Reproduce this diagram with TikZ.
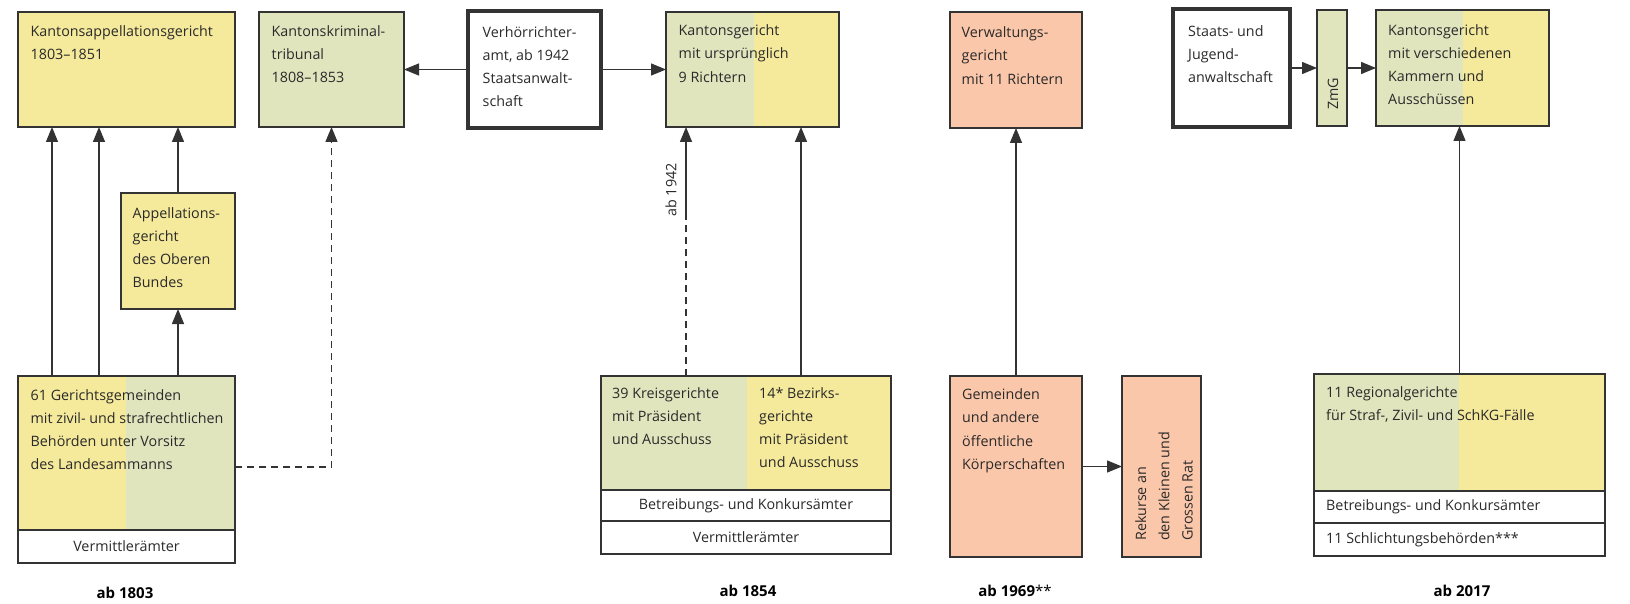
\documentclass[tikz,border=0pt]{standalone}
\usepackage{fontspec}
\setmainfont{Open Sans}
\usetikzlibrary{arrows.meta}
\definecolor{ylw}{HTML}{F5E99B}
\definecolor{grn}{HTML}{E0E5BE}
\definecolor{sal}{HTML}{FBC7AA}
\definecolor{ln}{HTML}{333333}
\definecolor{tx}{HTML}{2A2A2A}
\begin{document}
\begin{tikzpicture}[x=1pt,y=-1pt,
 box/.style={draw=ln, line width=1.3pt, inner sep=0pt, outer sep=0pt, anchor=north west},
 thickbox/.style={box, line width=3.8pt},
 splitfill/.style n args={3}{fill=#1, path picture={\fill[#2] ([xshift=#3]path picture bounding box.south west) rectangle (path picture bounding box.north east);}},
 txt/.style={text=tx, font=\fontsize{14.3}{23.3}\selectfont, align=left, anchor=north west, inner sep=0pt},
 ctxt/.style={text=tx, font=\fontsize{14.3}{23.3}\selectfont, inner sep=0pt},
 arr/.style={draw=ln, line width=1.3pt, -{Triangle[length=15pt,width=12pt]}},
 dsh/.style={draw=ln, line width=1.3pt, dash pattern=on 7pt off 5pt},
 dsharr/.style={dsh, -{Triangle[length=15pt,width=12pt]}},
 yr/.style={text=black, font=\fontsize{15}{18}\selectfont\bfseries, inner sep=0pt}
]
\fill[white] (0,0) rectangle (1630,604);
\useasboundingbox (0,0) rectangle (1630,604);

% ---------- ab 1803 ----------
\node[box, fill=ylw, minimum width=217pt, minimum height=115pt] (kag) at (18,12) {};
\node[txt] (tkag) at (30.5,25) {Kantonsappellationsgericht\\1803–1851};
\node[box, fill=grn, minimum width=145pt, minimum height=115pt] (kkt) at (259,12) {};
\node[txt] (tkkt) at (271.5,25) {Kantonskriminal-\\tribunal\\1808–1853};
\node[box, fill=ylw, minimum width=114pt, minimum height=116pt] (agob) at (121,193) {};
\node[txt] (tagob) at (132.5,207) {Appellations-\\gericht\\des Oberen\\Bundes};
\node[box, splitfill={ylw}{grn}{108pt}, minimum width=217pt, minimum height=154pt] (gg) at (18,376) {};
\node[txt] (tgg) at (30.5,389) {61 Gerichtsgemeinden\\mit zivil- und strafrechtlichen\\Behörden unter Vorsitz\\des Landesammanns};
\node[box, fill=white, minimum width=217pt, minimum height=33pt] (vm1) at (18,530) {};
\node[ctxt] (tvm1) at (vm1.center) {Vermittlerämter};
\node[yr] (y1803) at (125,593) {ab 1803};

\draw[arr] ([xshift=34pt]gg.north west) -- ([xshift=34pt]kag.south west);
\draw[arr] ([xshift=81pt]gg.north west) -- ([xshift=81pt]kag.south west);
\draw[arr] (gg.north -| agob.south) -- (agob.south);
\draw[arr] (agob.north) -- (agob.north |- kag.south);
\draw[dsharr] ([yshift=-14pt]gg.east) -| (kkt.south);

% ---------- Verhoerrichteramt ----------
\node[thickbox, fill=white, minimum width=133pt, minimum height=117pt] (vra) at (468,11) {};
\node[txt] (tvra) at (482.5,26) {Verhörrichter-\\amt, ab 1942\\Staatsanwalt-\\schaft};
\node[box, splitfill={grn}{ylw}{88pt}, minimum width=173pt, minimum height=115pt] (kg1) at (666,12) {};
\node[txt] (tkg1) at (678.5,24.5) {Kantonsgericht\\mit ursprünglich\\9 Richtern};
\draw[arr] (vra.west) -- (kkt.east);
\draw[arr] (vra.east) -- (kg1.west);

% ---------- ab 1854 ----------
\node[box, splitfill={grn}{ylw}{146pt}, minimum width=290pt, minimum height=114pt] (kb) at (601,376) {};
\node[txt] (tkr) at (612,387) {39 Kreisgerichte\\mit Präsident\\und Ausschuss};
\node[txt] (tbz) at (759,387) {14* Bezirks-\\gerichte\\mit Präsident\\und Ausschuss};
\node[box, fill=white, minimum width=290pt, minimum height=31pt] (bk1) at (601,490) {};
\node[ctxt] (tbk1) at (bk1.center) {Betreibungs- und Konkursämter};
\node[box, fill=white, minimum width=290pt, minimum height=33pt] (vm2) at (601,521) {};
\node[ctxt] (tvm2) at (vm2.center) {Vermittlerämter};
\node[yr] (y1854) at (748,591) {ab 1854};

\coordinate (c1942) at (686,217);
\draw[dsh] (c1942 |- kb.north) -- (c1942);
\draw[arr] (c1942) -- (c1942 |- kg1.south);
\node[ctxt, rotate=90] (t1942) at (671,190) {ab 1942};
\draw[arr] ([xshift=200pt]kb.north west) -- ([xshift=135pt]kg1.south west);

% ---------- ab 1969 ----------
\node[box, fill=sal, minimum width=132pt, minimum height=116pt] (vg) at (950,12) {};
\node[txt] (tvg) at (961.5,26.5) {Verwaltungs-\\gericht\\mit 11 Richtern};
\node[box, fill=sal, minimum width=132pt, minimum height=181pt] (gem) at (950,376) {};
\node[txt] (tgem) at (962,388.5) {Gemeinden\\und andere\\öffentliche\\Körperschaften};
\node[box, fill=sal, minimum width=79pt, minimum height=181pt] (rek) at (1122,376) {};
\node[txt, rotate=90] (trek) at (1135,541) {Rekurse an\\den Kleinen und\\Grossen Rat};
\node[yr] (y1969) at (1015,591) {ab 1969\textmd{**}};
\draw[arr] (gem.north) -- (vg.south);
\draw[arr] (gem.east) -- (rek.west);

% ---------- ab 2017 ----------
\node[thickbox, fill=white, minimum width=117pt, minimum height=118pt] (sja) at (1173,9) {};
\node[txt] (tsja) at (1188,25) {Staats- und\\Jugend-\\anwaltschaft};
\node[box, fill=grn, minimum width=30pt, minimum height=116pt] (zmg) at (1317,10) {};
\node[ctxt, rotate=90] (tzmg) at (1333,94) {ZmG};
\node[box, splitfill={grn}{ylw}{87pt}, minimum width=173pt, minimum height=116pt] (kg2) at (1376,10) {};
\node[txt] (tkg2) at (1388,24) {Kantonsgericht\\mit verschiedenen\\Kammern und\\Ausschüssen};
\draw[arr] (sja.east) -- (zmg.west);
\draw[arr] (zmg.east) -- (kg2.west);

\node[box, splitfill={grn}{ylw}{145pt}, minimum width=291pt, minimum height=117pt] (rg) at (1314,374) {};
\node[txt] (trg) at (1326,386) {11 Regionalgerichte\\für Straf-, Zivil- und SchKG-Fälle};
\node[box, fill=white, minimum width=291pt, minimum height=32pt] (bk2) at (1314,491) {};
\node[ctxt, anchor=west] (tbk2) at ([xshift=12pt]bk2.west) {Betreibungs- und Konkursämter};
\node[box, fill=white, minimum width=291pt, minimum height=33pt] (sb) at (1314,523) {};
\node[ctxt, anchor=west] (tsb) at ([xshift=12pt]sb.west) {11 Schlichtungsbehörden***};
\node[yr] (y2017) at (1462,591) {ab 2017};
\draw[arr] (rg.north) -- (rg.north |- kg2.south);
\end{tikzpicture}
\end{document}
